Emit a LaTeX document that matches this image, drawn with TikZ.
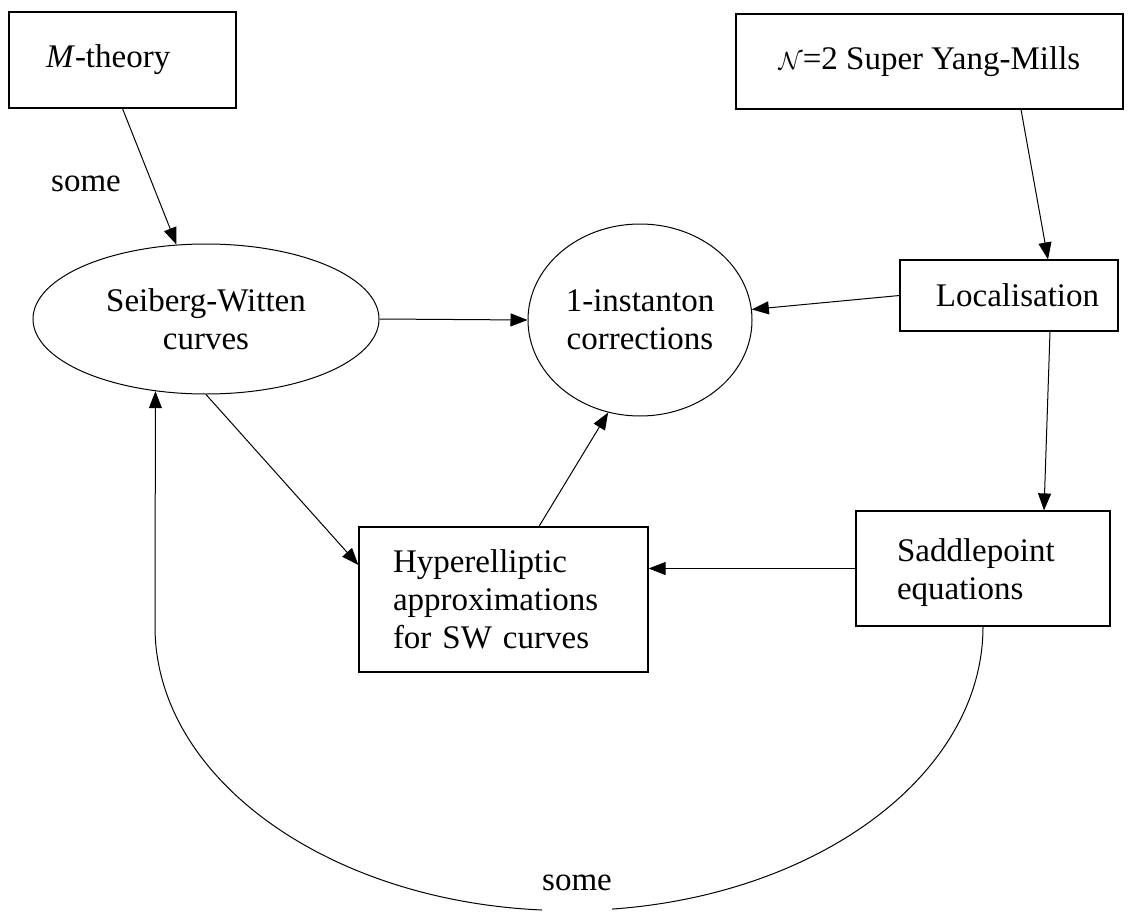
\documentclass[tikz,border=0pt]{standalone}
\usepackage{fontspec}
\setmainfont{Liberation Serif}
\usetikzlibrary{arrows.meta,shapes.geometric}
\begin{document}
\begin{tikzpicture}[x=1pt,y=-1pt,
  every node/.style={font=\fontsize{33}{38}\selectfont},
  box/.style={draw, line width=1.2pt, rectangle, inner ysep=0pt},
  oval/.style={draw, line width=1pt, ellipse, inner sep=0pt},
  conn/.style={line width=1pt, -{Triangle[length=17pt,width=13pt]}},
  ]
\useasboundingbox (0,0) rectangle (1129,912);

\node[box, minimum width=227pt, minimum height=96pt, text width=153pt, inner xsep=37pt, align=left] (mt) at (122.5,60) {\textit{M}-theory};
\node[box, minimum width=387pt, minimum height=95pt] (sym) at (929.5,61.5) {$\mathcal{N}$=2 Super Yang-Mills};
\node[oval, minimum width=346pt, minimum height=150pt, align=center] (sw) at (206,319) {Seiberg-Witten\\curves};
\node[oval, minimum width=224pt, minimum height=192pt, align=center] (inst) at (640,320) {1-instanton\\corrections};
\node[box, minimum width=218pt, minimum height=71pt] (loc) at (1009,295.5) {\hspace*{17pt}Localisation};
\node[box, minimum width=254pt, minimum height=115pt, text width=172pt, inner xsep=41pt, align=left] (sp) at (983,568.5) {\rule{0pt}{32pt}Saddlepoint\\equations};
\node[box, minimum width=289pt, minimum height=145pt, text width=221pt, inner xsep=34pt, align=left] (hyp) at (503.5,599.5) {Hyperelliptic\\approximations\\for SW curves};

\draw[conn] (mt.south) -- (sw);
\node (some1) at (86,184) {some};
\draw[conn] ([xshift=91.5pt]sym.south) -- ([xshift=39pt]loc.north);
\draw[conn] ([xshift=41pt]loc.south) -- ([xshift=61pt]sp.north);
\draw[conn] (loc.west) -- (inst);
\draw[conn] (sw.east) -- (inst.west);
\draw[conn] (sw.south) -- ([yshift=34.5pt]hyp.west);
\draw[conn] ([xshift=35.5pt]hyp.north) -- (inst.251);
\draw[conn] (sp.west) -- (sp.west -| hyp.east);
\draw[conn] (sp.south) arc[start angle=0, end angle=-180, x radius=414pt, y radius=284pt] -- (sw.235);
\node[fill=white, anchor=base, inner xsep=0pt, inner ysep=0pt, text depth=22pt] (some2) at (577,890) {some};
\end{tikzpicture}
\end{document}
